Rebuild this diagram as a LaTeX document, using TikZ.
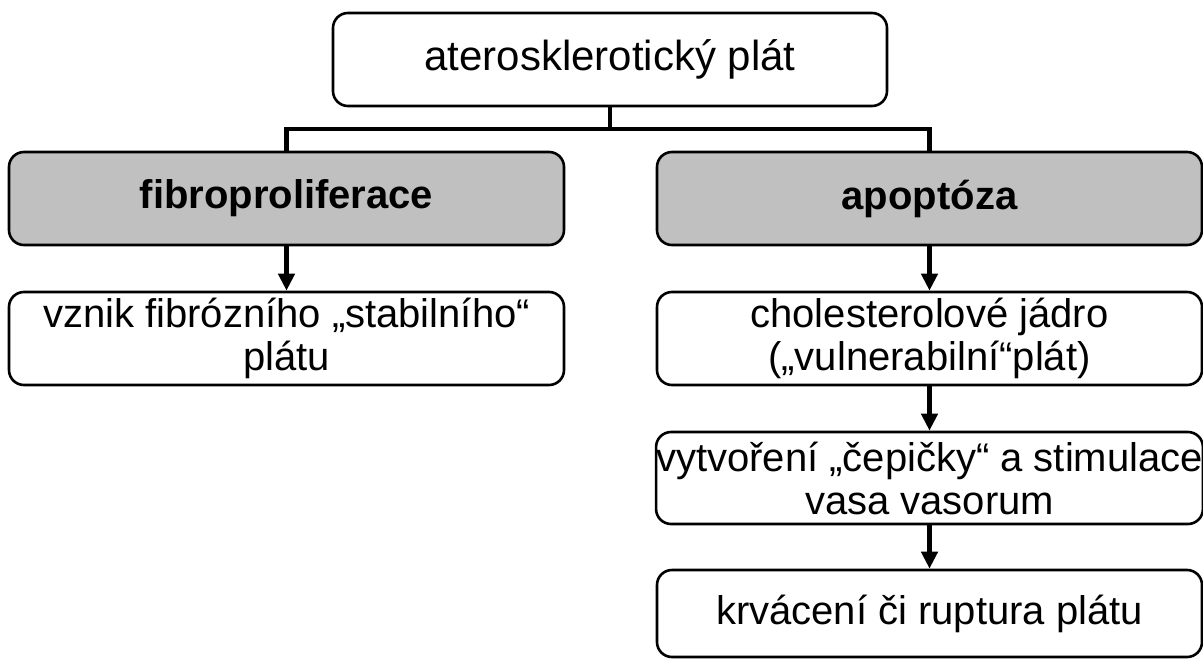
\documentclass[tikz,border=0pt]{standalone}
\usepackage{fontspec}
\setmainfont{Liberation Sans}
\usetikzlibrary{arrows.meta}
\tikzset{
  box/.style={draw=black, line width=2.6pt, rounded corners=15pt, fill=white,
    align=center, inner sep=0pt, font=\fontsize{40}{43}\selectfont},
  graybox/.style={box, fill=boxgray, font=\fontsize{40}{43}\selectfont\bfseries},
  link/.style={line width=4.4pt},
  arrowlink/.style={link, -{Triangle[width=16pt,length=17pt]}},
}
\definecolor{boxgray}{HTML}{C0C0C0}
\begin{document}
\begin{tikzpicture}[x=1pt,y=-1pt]
\useasboundingbox (0,0) rectangle (1203,659);
\node[box, minimum width=554pt, minimum height=93pt, font=\fontsize{42}{46}\selectfont] (top) at (610,59.5) {aterosklerotický plát};
\node[graybox, minimum width=555pt, minimum height=93pt] (fib) at (286.5,198.5) {fibroproliferace};
\node[graybox, minimum width=545pt, minimum height=93pt] (apo) at (929.5,198.5) {apoptóza};
\node[box, minimum width=555pt, minimum height=93pt] (vznik) at (286.5,338.5) {vznik fibrózního „stabilního“\\plátu};
\node[box, minimum width=545pt, minimum height=93pt] (chol) at (929.5,338.5) {cholesterolové jádro\\(„vulnerabilní“plát)};
\node[box, minimum width=545pt, minimum height=92pt] (vytv) at (929.5,478) {vytvoření „čepičky“ a stimulace\\vasa vasorum};
\node[box, minimum width=545pt, minimum height=87pt] (krv) at (929.5,613.5) {krvácení či ruptura plátu};
\coordinate (busy) at (0,129);
\draw[link] (top.south) -- (top.south |- busy);
\draw[link] (fib.north) -- (fib.north |- busy) -- (apo.north |- busy) -- (apo.north);
\draw[arrowlink] (fib.south) -- (vznik.north);
\draw[arrowlink] (apo.south) -- (chol.north);
\draw[arrowlink] (chol.south) -- (vytv.north);
\draw[arrowlink] (vytv.south) -- (krv.north);
\end{tikzpicture}
\end{document}
